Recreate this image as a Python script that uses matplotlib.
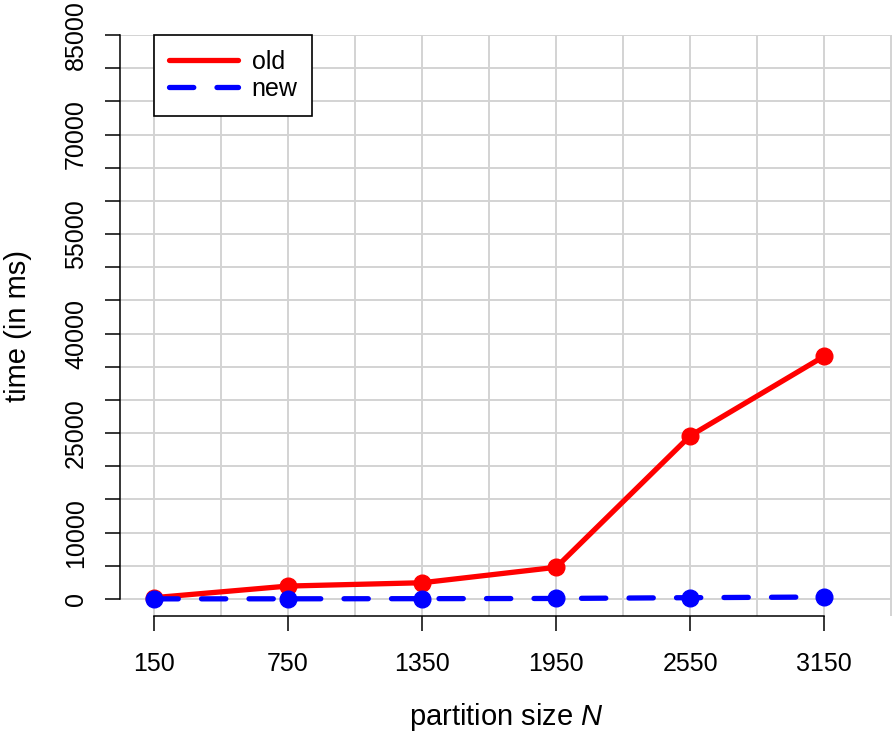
import matplotlib
matplotlib.use("Agg")
import matplotlib.pyplot as plt

plt.rcParams["font.family"] = ["Liberation Sans", "DejaVu Sans"]
plt.rcParams["mathtext.fontset"] = "custom"
plt.rcParams["mathtext.rm"] = "Liberation Sans"
plt.rcParams["mathtext.it"] = "Liberation Sans:italic"

# partition sizes and timings (ms)
sizes = [150, 750, 1350, 1950, 2550, 3150]
old_ms = [200, 1950, 2450, 4780, 24600, 36600]
new_ms = [20, 30, 50, 80, 200, 300]

y_ticks = list(range(0, 85001, 5000))
y_shown = [0, 10000, 25000, 40000, 55000, 70000, 85000]
x_grid = list(range(150, 3451, 300))

GRID = "#d3d3d3"

fig = plt.figure(figsize=(8.92, 7.33), dpi=100)
ax = fig.add_axes([120 / 892, 1 - 616 / 733, 772 / 892, 581 / 733])

ax.set_xlim(-2.2, 3453)
ax.set_ylim(-2562, 85000)

# grid: every 300 on x, every 5000 on y
ax.set_xticks(sizes)
ax.set_xticks([g for g in x_grid if g not in sizes], minor=True)
ax.set_yticks(y_ticks)
ax.set_yticklabels([str(v) if v in y_shown else "" for v in y_ticks])
ax.grid(which="both", axis="x", color=GRID, lw=1.4)
ax.grid(which="major", axis="y", color=GRID, lw=1.4)
ax.set_axisbelow(True)

ax.plot(sizes, old_ms, color="red", lw=3.8, marker="o", ms=12,
        solid_capstyle="round", label="old", zorder=3)
ax.plot(sizes, new_ms, color="blue", lw=3.8, marker="o", ms=12,
        ls=(0, (4.6, 4.4)), dash_capstyle="round", label="new", zorder=4)

for side in ("top", "right"):
    ax.spines[side].set_visible(False)
ax.spines["left"].set_bounds(0, 85000)
ax.spines["bottom"].set_bounds(150, 3150)
ax.spines["left"].set_linewidth(1.1)
ax.spines["bottom"].set_linewidth(1.1)

ax.tick_params(which="major", direction="out", length=11, width=1.1,
               labelsize=18, colors="black")
ax.tick_params(axis="x", which="major", pad=15)
ax.tick_params(axis="y", which="major", pad=12)
ax.tick_params(which="minor", length=0)
plt.setp(ax.get_yticklabels(), rotation=90, va="center")

ax.set_xlabel("partition size $N$", fontsize=21)
ax.set_ylabel("time (in ms)", fontsize=21)
ax.xaxis.set_label_coords(0.5, -0.147)
ax.yaxis.set_label_coords(-0.114, 0.5)

leg = ax.legend(loc="upper left", bbox_to_anchor=(150, 85000),
                bbox_transform=ax.transData, borderaxespad=0,
                fontsize=18, handlelength=2.75, handletextpad=0.55,
                labelspacing=0.1, borderpad=0.6, fancybox=False,
                framealpha=1, edgecolor="black")
leg.get_frame().set_linewidth(1.2)
for h in leg.get_lines():
    h.set_marker("")

fig.savefig("out.png", dpi=100)
